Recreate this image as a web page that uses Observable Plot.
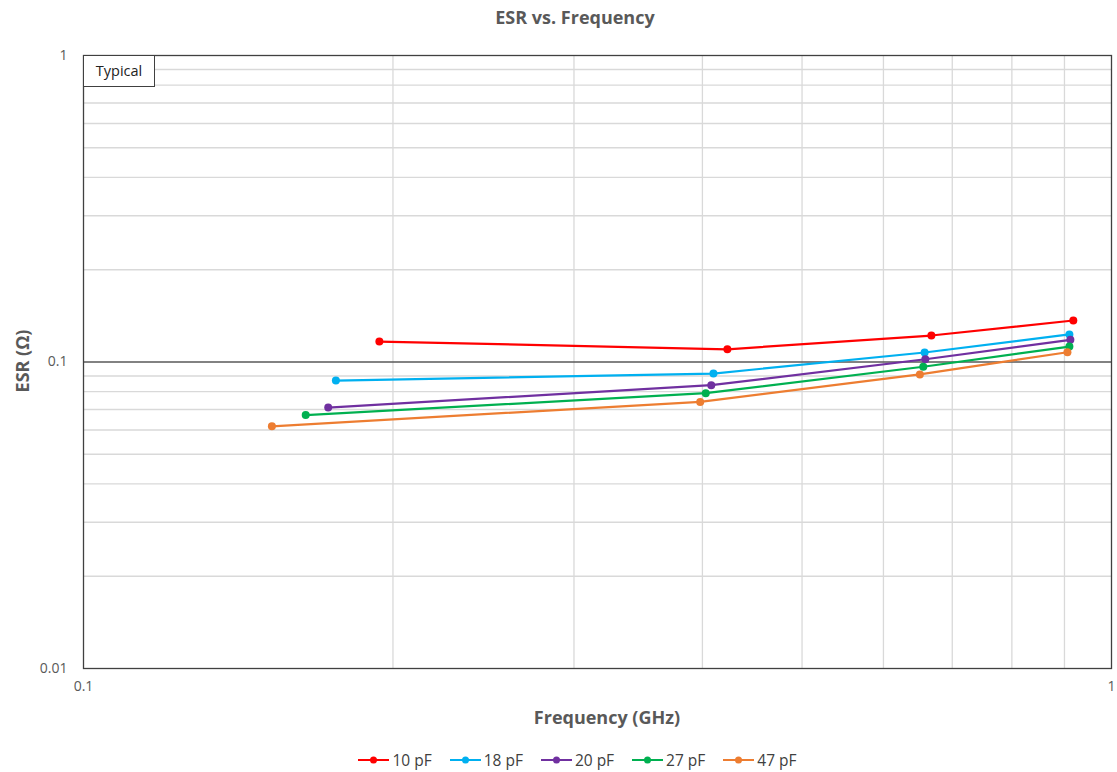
<!DOCTYPE html>
<html>
<head>
<meta charset="utf-8">
<script src="https://cdn.jsdelivr.net/npm/d3@7"></script>
<script src="https://cdn.jsdelivr.net/npm/@observablehq/plot@0.6"></script>
<style>
  body { margin: 0; background: #fff; font-family: "Open Sans", "Noto Sans", sans-serif; }
  #wrap { position: relative; width: 1117px; height: 772px; }
  #chart { position: absolute; left: 0; top: 0; }
  .lbl { position: absolute; color: #595959; font-weight: bold; font-size: 18px; white-space: nowrap; line-height: 22px; }
  #title { left: 0; width: 1150px; top: 6px; text-align: center; }
  #xlabel { left: 93px; width: 1028px; top: 706px; text-align: center; }
  #ylabel { left: 22px; top: 361px; transform: translate(-50%, -50%) rotate(-90deg); }
  #typical { position: absolute; left: 83px; top: 55px; width: 72px; height: 32px; box-sizing: border-box;
    border: 1px solid #404040; background: #fff; font-size: 14.5px; color: #222; line-height: 30px; text-align: center; }
  #legend { position: absolute; left: 0; width: 1155px; top: 749px; display: flex; justify-content: center; gap: 18px;
    font-size: 15.5px; color: #404040; }
  #legend .item { display: flex; align-items: center; gap: 3px; }
</style>
</head>
<body>
<div id="wrap">
  <div id="chart"></div>
  <div id="title" class="lbl">ESR vs. Frequency</div>
  <div id="xlabel" class="lbl">Frequency (GHz)</div>
  <div id="ylabel" class="lbl">ESR (Ω)</div>
  <div id="typical">Typical</div>
  <div id="legend"></div>
</div>
<script>
const series = ["10 pF", "18 pF", "20 pF", "27 pF", "47 pF"];
const colors = ["#FF0000", "#00B0F0", "#7030A0", "#00B050", "#ED7D31"];

const freq10 = [0.194, 0.423, 0.668, 0.918];
const esr10  = [0.1166, 0.110, 0.122, 0.1366];
const freq18 = [0.176, 0.410, 0.658, 0.910];
const esr18  = [0.0870, 0.0917, 0.1074, 0.123];
const freq20 = [0.173, 0.408, 0.659, 0.912];
const esr20  = [0.0710, 0.0840, 0.1021, 0.1181];
const freq27 = [0.1645, 0.403, 0.656, 0.910];
const esr27  = [0.0671, 0.0791, 0.0965, 0.1123];
const freq47 = [0.1525, 0.398, 0.651, 0.906];
const esr47  = [0.0617, 0.0741, 0.0911, 0.1076];

const xTicks = [0.1, 1];
const yTicks = [0.01, 0.1, 1];
const xMinor = [0.2, 0.3, 0.4, 0.5, 0.6, 0.7, 0.8, 0.9];
const yMinor = [0.02, 0.03, 0.04, 0.05, 0.06, 0.07, 0.08, 0.09, 0.2, 0.3, 0.4, 0.5, 0.6, 0.7, 0.8, 0.9];
const yMajor = [0.1];

const freqs = [freq10, freq18, freq20, freq27, freq47];
const esrs = [esr10, esr18, esr20, esr27, esr47];
const data = [];
series.forEach((s, i) => freqs[i].forEach((f, j) => data.push({series: s, f, esr: esrs[i][j]})));

const fmt = d => String(d);

const chart = Plot.plot({
  width: 1117,
  height: 740,
  marginTop: 55,
  marginLeft: 83,
  marginRight: 6,
  marginBottom: 72,
  style: { fontFamily: "'Open Sans', 'Noto Sans', sans-serif", fontSize: "14px", color: "#595959", background: "#fff" },
  x: { type: "log", domain: [0.1, 1] },
  y: { type: "log", domain: [0.01, 1] },
  color: { domain: series, range: colors },
  marks: [
    Plot.ruleX(xMinor, { stroke: "#d9d9d9", strokeWidth: 1.3 }),
    Plot.ruleY(yMinor, { stroke: "#d9d9d9", strokeWidth: 1.3 }),
    Plot.ruleY(yMajor, { stroke: "#595959", strokeWidth: 1.3 }),
    Plot.frame({ stroke: "#404040", strokeWidth: 1.3 }),
    Plot.line(data, { x: "f", y: "esr", z: "series", stroke: "series", strokeWidth: 2.2 }),
    Plot.dot(data, { x: "f", y: "esr", fill: "series", r: 4 }),
    Plot.axisX(xTicks, { tickSize: 0, tickPadding: 13, tickFormat: fmt, label: null }),
    Plot.axisY(yTicks, { tickSize: 0, tickPadding: 16, tickFormat: fmt, label: null })
  ]
});
document.getElementById("chart").appendChild(chart);

const legend = document.getElementById("legend");
series.forEach((s, i) => {
  const item = document.createElement("div");
  item.className = "item";
  item.innerHTML = `<svg width="31" height="10"><line x1="0" y1="5" x2="31" y2="5" stroke="${colors[i]}" stroke-width="2"/><circle cx="15.5" cy="5" r="3.5" fill="${colors[i]}"/></svg><span>${s}</span>`;
  legend.appendChild(item);
});
</script>
</body>
</html>
